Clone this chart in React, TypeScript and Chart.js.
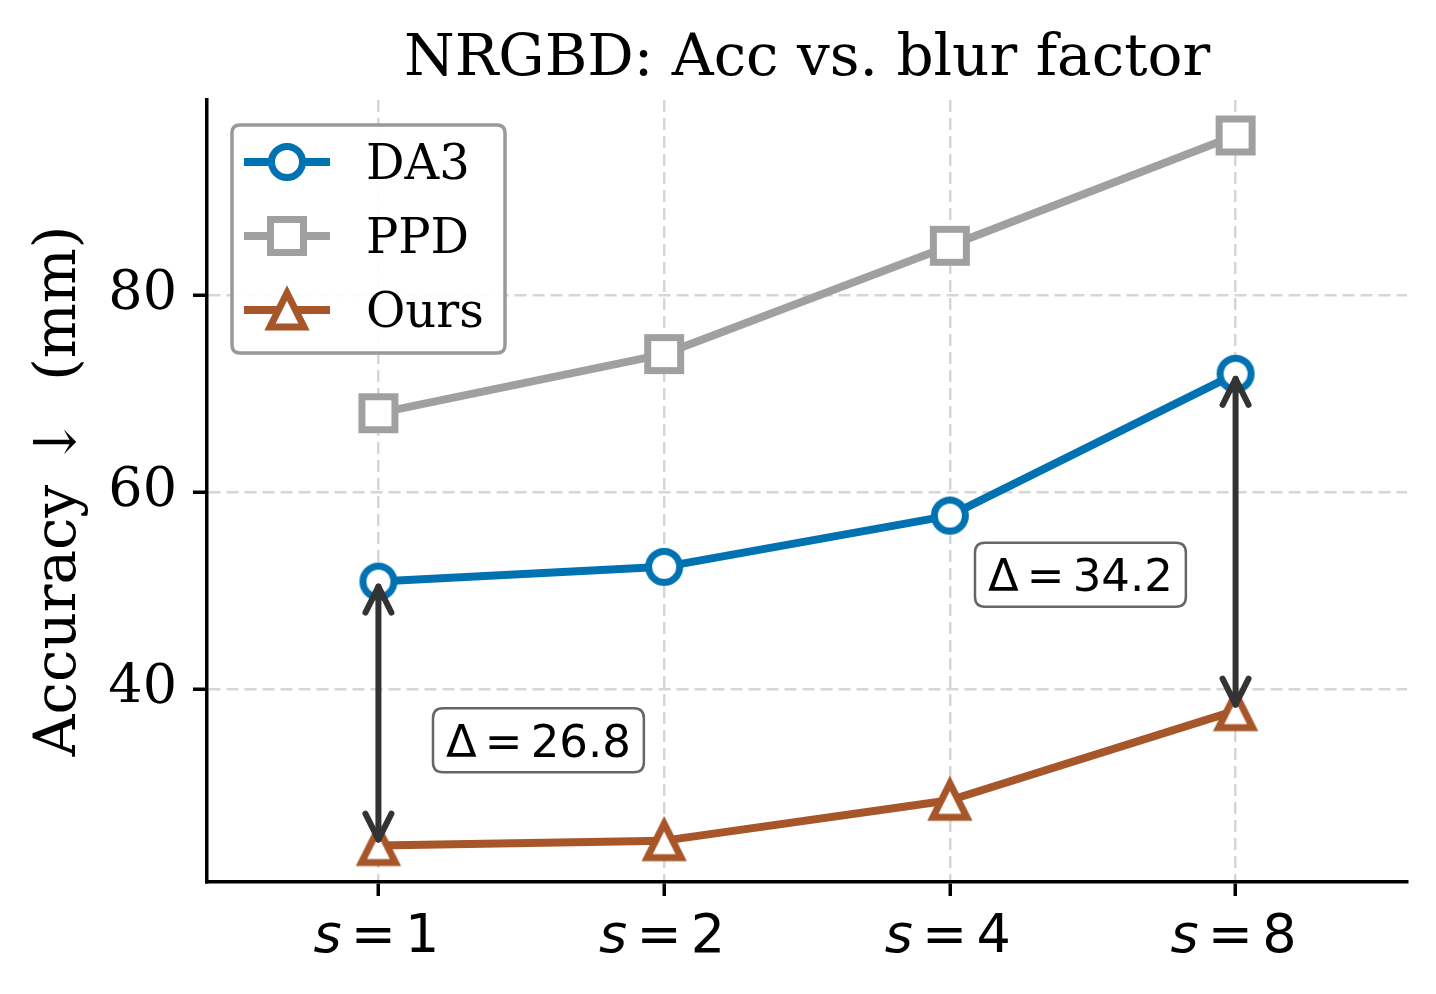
import React, { useEffect, useRef } from "react";
import { Chart, registerables } from "chart.js";

Chart.register(...registerables);

// ---------------- data ----------------
const categories = ["1", "2", "4", "8"];
const seriesNames = ["DA3", "PPD", "Ours"];
const da3Values = [50.9, 52.4, 57.6, 72.0];
const ppdValues = [68.0, 74.0, 85.0, 96.2];
const oursValues = [24.1, 24.6, 28.7, 37.8];
const yTickValues = [40, 60, 80];
const deltaIndices = [0, 3];
const deltaLabels = ["26.8", "34.2"];
const deltaLabelX = [0.56, 2.457];
const deltaLabelY = [34.8, 51.6];

const titleText = "NRGBD: Acc vs. blur factor";
const yTitleText = "Accuracy \u2193  (mm)";

const COLORS = ["#0072B2", "#A0A0A0", "#A65628"];
const SHAPES = ["circle", "square", "triangle"];

function makeMarker(shape: string, color: string): HTMLCanvasElement {
  const c = document.createElement("canvas");
  c.width = 64;
  c.height = 64;
  const g = c.getContext("2d")!;
  g.translate(32, 32);
  g.beginPath();
  if (shape === "circle") g.arc(0, 0, 15.5, 0, Math.PI * 2);
  else if (shape === "square") g.rect(-16.5, -16.5, 33, 33);
  else {
    g.moveTo(0, -17);
    g.lineTo(-17, 17);
    g.lineTo(17, 17);
    g.closePath();
  }
  g.fillStyle = "#ffffff";
  g.fill();
  g.lineWidth = 7;
  g.strokeStyle = color;
  g.lineJoin = "miter";
  g.stroke();
  return c;
}

function roundRect(ctx: CanvasRenderingContext2D, x: number, y: number, w: number, h: number, r: number) {
  ctx.beginPath();
  ctx.moveTo(x + r, y);
  ctx.lineTo(x + w - r, y);
  ctx.quadraticCurveTo(x + w, y, x + w, y + r);
  ctx.lineTo(x + w, y + h - r);
  ctx.quadraticCurveTo(x + w, y + h, x + w - r, y + h);
  ctx.lineTo(x + r, y + h);
  ctx.quadraticCurveTo(x, y + h, x, y + h - r);
  ctx.lineTo(x, y + r);
  ctx.quadraticCurveTo(x, y, x + r, y);
  ctx.closePath();
}

export default function App() {
  const ref = useRef<HTMLCanvasElement>(null);

  useEffect(() => {
    document.body.style.margin = "0";
    const markers = SHAPES.map((s, i) => makeMarker(s, COLORS[i]));
    const seriesValues = [da3Values, ppdValues, oursValues];

    const overlay = {
      id: "overlay",
      afterDatasetsDraw(chart: any) {
        const ctx: CanvasRenderingContext2D = chart.ctx;
        const xs = chart.scales.x;
        const ys = chart.scales.y;

        // arrows
        ctx.save();
        ctx.strokeStyle = "#333333";
        ctx.lineWidth = 6;
        ctx.lineCap = "round";
        ctx.lineJoin = "round";
        deltaIndices.forEach((idx) => {
          const x = xs.getPixelForValue(idx);
          const yTop = ys.getPixelForValue(da3Values[idx]) + 5;
          const yBot = ys.getPixelForValue(oursValues[idx]) - 6;
          ctx.beginPath();
          ctx.moveTo(x, yTop);
          ctx.lineTo(x, yBot);
          ctx.stroke();
          ctx.beginPath();
          ctx.moveTo(x - 13, yTop + 26);
          ctx.lineTo(x, yTop);
          ctx.lineTo(x + 13, yTop + 26);
          ctx.stroke();
          ctx.beginPath();
          ctx.moveTo(x - 13, yBot - 26);
          ctx.lineTo(x, yBot);
          ctx.lineTo(x + 13, yBot - 26);
          ctx.stroke();
        });
        ctx.restore();

        // delta boxes
        ctx.save();
        deltaLabels.forEach((lab, k) => {
          const cx = xs.getPixelForValue(deltaLabelX[k]);
          const cy = ys.getPixelForValue(deltaLabelY[k]);
          const fs = 45;
          ctx.font = `${fs}px "DejaVu Sans"`;
          const wD = ctx.measureText("\u0394").width;
          const wE = ctx.measureText("=").width;
          const wN = ctx.measureText(lab).width;
          const gap = 0.18 * fs;
          const total = wD + gap + wE + gap + wN;
          const boxW = total + 26;
          const boxH = 64;
          ctx.fillStyle = "#ffffff";
          ctx.strokeStyle = "#666666";
          ctx.lineWidth = 2.5;
          roundRect(ctx, cx - boxW / 2, cy - boxH / 2, boxW, boxH, 10);
          ctx.fill();
          ctx.stroke();
          ctx.fillStyle = "#000000";
          ctx.textBaseline = "alphabetic";
          ctx.textAlign = "left";
          const base = cy + 0.3645 * fs;
          let x0 = cx - total / 2;
          ctx.fillText("\u0394", x0, base);
          x0 += wD + gap;
          ctx.fillText("=", x0, base);
          x0 += wE + gap;
          ctx.fillText(lab, x0, base);
        });
        ctx.restore();

        // legend
        ctx.save();
        ctx.globalAlpha = 0.92;
        ctx.fillStyle = "#ffffff";
        roundRect(ctx, 232, 125, 273, 228, 8);
        ctx.fill();
        ctx.globalAlpha = 1;
        ctx.strokeStyle = "#999999";
        ctx.lineWidth = 3.5;
        ctx.stroke();
        seriesNames.forEach((name, i) => {
          const rowY = 162 + i * 74;
          ctx.strokeStyle = COLORS[i];
          ctx.lineWidth = 8;
          ctx.lineCap = "butt";
          ctx.beginPath();
          ctx.moveTo(244, rowY);
          ctx.lineTo(330, rowY);
          ctx.stroke();
          const m = markers[i];
          ctx.drawImage(m, 287 - m.width / 2, rowY - m.height / 2);
          ctx.fillStyle = "#000000";
          ctx.font = '48px "DejaVu Serif"';
          ctx.textAlign = "left";
          ctx.textBaseline = "alphabetic";
          ctx.fillText(name, 366, rowY + 0.3645 * 48);
        });
        ctx.restore();
      },
      afterDraw(chart: any) {
        const ctx: CanvasRenderingContext2D = chart.ctx;
        const xs = chart.scales.x;
        const area = chart.chartArea;
        ctx.save();
        // title
        ctx.fillStyle = "#000000";
        ctx.font = '58px "DejaVu Serif"';
        ctx.textAlign = "center";
        ctx.textBaseline = "alphabetic";
        ctx.fillText(titleText, (area.left + area.right) / 2, 75);

        // y title
        ctx.save();
        ctx.translate(75, (area.top + area.bottom) / 2);
        ctx.rotate(-Math.PI / 2);
        ctx.font = '58px "DejaVu Serif"';
        ctx.textAlign = "center";
        ctx.textBaseline = "alphabetic";
        ctx.fillText(yTitleText, 0, 0);
        ctx.restore();

        // x tick labels (math style: italic s)
        const fs = 54;
        categories.forEach((c, i) => {
          const x = xs.getPixelForValue(i);
          ctx.font = `italic ${fs}px "DejaVu Sans"`;
          const wS = ctx.measureText("s").width;
          ctx.font = `${fs}px "DejaVu Sans"`;
          const wE = ctx.measureText("=").width;
          const wN = ctx.measureText(c).width;
          const gap = 0.17 * fs;
          const total = wS + gap + wE + gap + wN;
          let x0 = x - total / 2 - 2;
          const base = 952;
          ctx.textAlign = "left";
          ctx.font = `italic ${fs}px "DejaVu Sans"`;
          ctx.fillText("s", x0, base);
          x0 += wS + gap;
          ctx.font = `${fs}px "DejaVu Sans"`;
          ctx.fillText("=", x0, base);
          x0 += wE + gap;
          ctx.fillText(c, x0, base);
        });
        ctx.restore();
      },
    };

    const datasets = seriesNames.map((name, i) => ({
      label: name,
      data: seriesValues[i].map((v, j) => ({ x: j, y: v })),
      borderColor: COLORS[i],
      backgroundColor: COLORS[i],
      borderWidth: 8,
      borderJoinStyle: "round" as const,
      borderCapStyle: "butt" as const,
      pointStyle: markers[i],
      pointRadius: 18,
      pointHoverRadius: 18,
      tension: 0,
      fill: false,
      clip: false as any,
    }));

    const gridCommon = {
      color: "#d6d6d6",
      lineWidth: 2.5,
      tickColor: "#000000",
      tickLength: 14,
      tickWidth: 3.5,
      drawTicks: true,
    };
    const borderCommon = { color: "#000000", width: 3.5, dash: [12, 6] };

    const chart = new Chart(ref.current!, {
      type: "line",
      data: { datasets },
      options: {
        responsive: false,
        animation: false,
        events: [],
        layout: { padding: { top: 100, right: 29, left: 0, bottom: 0 } },
        plugins: {
          legend: { display: false },
          title: { display: false },
          tooltip: { enabled: false },
        },
        scales: {
          x: {
            type: "linear",
            min: -0.6,
            max: 3.6,
            afterBuildTicks: (s: any) => {
              s.ticks = categories.map((_, i) => ({ value: i }));
            },
            afterFit: (s: any) => {
              s.height = 112;
            },
            ticks: { display: false },
            grid: gridCommon,
            border: borderCommon,
          },
          y: {
            type: "linear",
            min: 20.4,
            max: 99.8,
            afterBuildTicks: (s: any) => {
              s.ticks = yTickValues.map((v) => ({ value: v }));
            },
            afterFit: (s: any) => {
              s.width = 207;
            },
            ticks: {
              font: { family: "DejaVu Serif", size: 54 },
              color: "#000000",
              padding: 16,
            },
            grid: gridCommon,
            border: borderCommon,
          },
        },
      } as any,
      plugins: [overlay],
    });
    return () => chart.destroy();
  }, []);

  return (
    <div style={{ position: "absolute", left: 0, top: 0, width: 1436, height: 994, background: "#ffffff" }}>
      <canvas ref={ref} width={1436} height={994} style={{ display: "block", width: 1436, height: 994 }} />
    </div>
  );
}
